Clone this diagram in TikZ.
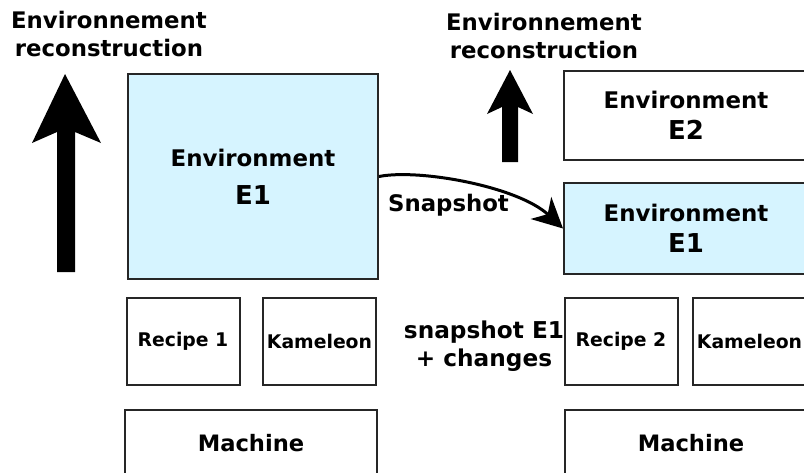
\documentclass[tikz,border=0pt]{standalone}
\usepackage{fontspec}
\setmainfont{DejaVu Sans}
\usetikzlibrary{arrows.meta}
\definecolor{envblue}{RGB}{214,244,255}

\begin{document}
\begin{tikzpicture}[x=1pt, y=-1pt] %Snapshot
			\tikzstyle{envbox} = [rectangle, draw=black!85, line width=2pt, inner sep=0pt, align=center, font=\bfseries\fontsize{22.9}{31}\selectfont]
			\tikzstyle{smallbox} = [rectangle, draw=black!85, line width=2pt, inner sep=0pt, minimum width=113pt, minimum height=87pt, align=center, font=\bfseries\fontsize{18.8}{22}\selectfont]
			\tikzstyle{machinebox} = [rectangle, draw=black!85, line width=2pt, inner sep=0pt, minimum width=252pt, minimum height=66pt, font=\bfseries\fontsize{22.6}{26}\selectfont]
			\tikzstyle{title} = [align=center, font=\bfseries\fontsize{22.8}{28}\selectfont]
			\useasboundingbox (0,0) rectangle (804,472);
			\clip (0,0) rectangle (804,472);
			% left column
			\node[title] (titleA) at (109,34) {Environnement\\reconstruction};
			\node[envbox, fill=envblue, minimum width=250pt, minimum height=205pt] (E1a) at (253,176.5) {Environment\\[7pt]{\fontsize{26}{30}\selectfont E1}};
			\node[smallbox] (recA) at (183,341.5) {Recipe 1};
			\node[smallbox] (kamA) at (319.5,341.5) {Kameleon};
			\node[machinebox] (machA) at (251,443) {Machine};
			% right column
			\node[title] (titleB) at (544,36) {Environnement\\reconstruction};
			\node[envbox, minimum width=244pt, minimum height=89pt] (E2) at (686,115.5) {Environment\\{\fontsize{26}{30}\selectfont E2}};
			\node[envbox, fill=envblue, minimum width=244pt, minimum height=91pt] (E1b) at (686,228.5) {Environment\\{\fontsize{26}{30}\selectfont E1}};
			\node[smallbox] (recB) at (621,341.5) {Recipe 2};
			\node[smallbox] (kamB) at (749.5,341.5) {Kameleon};
			\node[machinebox] (machB) at (691,443) {Machine};
			\node[align=center, font=\bfseries\fontsize{23.2}{28}\selectfont] (changes) at (484,346) {snapshot E1\\+ changes};
			% arrows
			\fill (65,74) -- (101,143) -- (75,132) -- (75,272) -- (57,272) -- (57,132) -- (32,143) -- cycle;
			\fill (510,70) -- (533,114) -- (518,107) -- (518,162) -- (502,162) -- (502,107) -- (487,114) -- cycle;
			\draw[line width=3pt, -{Stealth[length=30pt, width=30pt, inset=9pt]}] (E1a.east) .. controls +(40,-8) and +(-45,-42) .. (E1b.west);
			\node[font=\bfseries\fontsize{22.8}{26}\selectfont] (snaplbl) at (448.5,205) {Snapshot};
		\end{tikzpicture}
\end{document}
